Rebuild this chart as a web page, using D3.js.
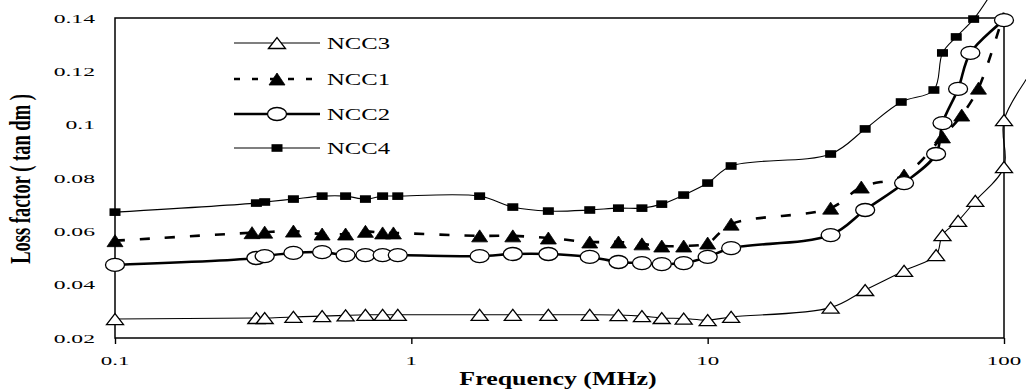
<!DOCTYPE html>
<html>
<head>
<meta charset="utf-8">
<script src="https://cdn.jsdelivr.net/npm/d3@7"></script>
<style>
  body { margin: 0; background: #fff; }
  svg { display: block; }
</style>
</head>
<body>
<svg id="chart" width="1026" height="389"></svg>
<script>
// ---- data ----
const xTickValues = [0.1, 1, 10, 100];
const xTickLabels = ["0.1", "1", "10", "100"];
const yTickValues = [0.02, 0.04, 0.06, 0.08, 0.1, 0.12, 0.14];
const yTickLabels = ["0.02", "0.04", "0.06", "0.08", "0.1", "0.12", "0.14"];
const legendOrder = ["NCC3", "NCC1", "NCC2", "NCC4"];

// frequency (MHz) and loss factor for each sample
const freqNCC3 = [0.1, 0.3, 0.32, 0.4, 0.5, 0.6, 0.7, 0.8, 0.9, 1.7, 2.2, 2.9, 4, 5, 6, 7, 8.3, 10, 12, 26, 34, 46, 59, 62, 70, 80, 100, 100, 133];
const lossNCC3 = [0.0271, 0.0275, 0.0275, 0.0279, 0.0282, 0.0285, 0.0287, 0.0287, 0.0287, 0.0287, 0.0287, 0.0287, 0.0287, 0.0286, 0.0282, 0.0275, 0.0273, 0.0267, 0.0279, 0.0314, 0.038, 0.0452, 0.0511, 0.0586, 0.0639, 0.0714, 0.0841, 0.1017, 0.1246];

const freqNCC1 = [0.1, 0.29, 0.32, 0.4, 0.5, 0.6, 0.7, 0.8, 0.87, 1.7, 2.2, 2.9, 4, 5, 6, 7, 8.3, 10, 12, 26, 33, 46, 62, 72, 82, 100];
const lossNCC1 = [0.0565, 0.0595, 0.0597, 0.0601, 0.059, 0.059, 0.060, 0.0594, 0.0594, 0.0583, 0.0583, 0.0575, 0.056, 0.056, 0.0553, 0.0545, 0.0545, 0.0556, 0.0627, 0.0687, 0.0766, 0.0811, 0.0954, 0.1036, 0.1137, 0.142];

const freqNCC2 = [0.1, 0.3, 0.32, 0.4, 0.5, 0.6, 0.7, 0.8, 0.9, 1.7, 2.2, 2.9, 4, 5, 6, 7, 8.3, 10, 12, 26, 34, 46, 59, 62, 70, 77, 100];
const lossNCC2 = [0.0474, 0.050, 0.0507, 0.0519, 0.0522, 0.0511, 0.0511, 0.0511, 0.0511, 0.0507, 0.0515, 0.0515, 0.0504, 0.0485, 0.0481, 0.0477, 0.0481, 0.0504, 0.0537, 0.0586, 0.068, 0.0781, 0.089, 0.1006, 0.1134, 0.1269, 0.1392];

const freqNCC4 = [0.1, 0.3, 0.32, 0.4, 0.5, 0.6, 0.7, 0.8, 0.9, 1.7, 2.2, 2.9, 4, 5, 6, 7, 8.3, 10, 12, 26, 34, 45, 58, 62, 69, 79, 88];
const lossNCC4 = [0.0672, 0.0706, 0.071, 0.0721, 0.0732, 0.0732, 0.0721, 0.0732, 0.0732, 0.0732, 0.0691, 0.0676, 0.068, 0.0687, 0.0687, 0.0702, 0.0736, 0.0781, 0.0845, 0.089, 0.0984, 0.1085, 0.113, 0.1269, 0.1329, 0.1396, 0.147];

// ---- styling per series ----
const seriesStyle = {
  NCC3: { freq: freqNCC3, loss: lossNCC3, width: 1.1, dash: null, marker: "triOpen" },
  NCC1: { freq: freqNCC1, loss: lossNCC1, width: 2.6, dash: "10,15", marker: "triFilled" },
  NCC2: { freq: freqNCC2, loss: lossNCC2, width: 2.6, dash: null, marker: "circle" },
  NCC4: { freq: freqNCC4, loss: lossNCC4, width: 1.1, dash: null, marker: "square" }
};

const serif = "'Liberation Serif', 'Times New Roman', serif";
const svg = d3.select("#chart");
const plot = { left: 115, top: 18, right: 1004, bottom: 338 };

const x = d3.scaleLog().domain([0.1, 100]).range([plot.left, plot.right]);
const y = d3.scaleLinear().domain([0.02, 0.14]).range([plot.bottom, plot.top]);

// plot frame
svg.append("rect")
  .attr("x", plot.left).attr("y", plot.top)
  .attr("width", plot.right - plot.left).attr("height", plot.bottom - plot.top)
  .attr("fill", "none").attr("stroke", "#000").attr("stroke-width", 1.5);

// x axis tick marks
const xAxis = svg.append("g")
  .attr("transform", `translate(0,${plot.bottom})`)
  .call(d3.axisBottom(x).tickValues(xTickValues).tickSize(6).tickFormat(""));
xAxis.select(".domain").remove();
xAxis.selectAll(".tick line").attr("stroke", "#000").attr("stroke-width", 1.4);

// x tick labels (wide serif)
svg.append("g").selectAll("text")
  .data(xTickValues)
  .join("text")
  .attr("transform", d => `translate(${x(d)},365) scale(1.7,1)`)
  .attr("text-anchor", "middle")
  .attr("font-family", serif).attr("font-size", 13.5).attr("fill", "#000")
  .text((d, i) => xTickLabels[i]);

// y tick labels
svg.append("g").selectAll("text")
  .data(yTickValues)
  .join("text")
  .attr("transform", d => `translate(95,${y(d)}) scale(1.75,1)`)
  .attr("text-anchor", "end")
  .attr("dy", "0.35em")
  .attr("font-family", serif).attr("font-size", 13.5).attr("fill", "#000")
  .text((d, i) => yTickLabels[i]);

// axis titles
svg.append("text")
  .attr("transform", "translate(558,385) scale(1.44,1)")
  .attr("text-anchor", "middle")
  .attr("font-family", serif).attr("font-weight", "bold").attr("font-size", 18)
  .text("Frequency (MHz)");

svg.append("text")
  .attr("transform", "translate(30,179) scale(1.6,1) rotate(-90)")
  .attr("text-anchor", "middle")
  .attr("font-family", serif).attr("font-weight", "bold").attr("font-size", 18.5)
  .text("Loss factor ( tan dm )");

// marker drawing
function drawMarker(g, type) {
  if (type === "triOpen") {
    g.append("path").attr("d", "M-8.5,5.5L0,-5.5L8.5,5.5Z")
      .attr("fill", "#fff").attr("stroke", "#000").attr("stroke-width", 1.3);
  } else if (type === "triFilled") {
    g.append("path").attr("d", "M-8,6L0,-6L8,6Z")
      .attr("fill", "#000").attr("stroke", "#000").attr("stroke-width", 0.8);
  } else if (type === "circle") {
    g.append("ellipse").attr("rx", 9.5).attr("ry", 6.5)
      .attr("fill", "#fff").attr("stroke", "#000").attr("stroke-width", 1.3);
  } else if (type === "square") {
    g.append("rect").attr("x", -5.5).attr("y", -3.8).attr("width", 11).attr("height", 7.6)
      .attr("fill", "#000");
  }
}

const line = d3.line()
  .x(d => x(d[0]))
  .y(d => y(d[1]))
  .curve(d3.curveCatmullRom.alpha(0.5));

const drawOrder = ["NCC3", "NCC1", "NCC2", "NCC4"];

// series lines
drawOrder.forEach(name => {
  const s = seriesStyle[name];
  const pts = s.freq.map((f, i) => [f, s.loss[i]]);
  svg.append("path")
    .datum(pts)
    .attr("d", line)
    .attr("fill", "none")
    .attr("stroke", "#000")
    .attr("stroke-width", s.width)
    .attr("stroke-dasharray", s.dash);
});

// series markers (only those inside the axis ranges)
drawOrder.forEach(name => {
  const s = seriesStyle[name];
  const pts = s.freq.map((f, i) => [f, s.loss[i]])
    .filter(p => p[0] >= 0.1 && p[0] <= 100 && p[1] <= 0.1405);
  svg.append("g").selectAll("g")
    .data(pts)
    .join("g")
    .attr("transform", d => `translate(${x(d[0])},${y(d[1])})`)
    .each(function () { drawMarker(d3.select(this), s.marker); });
});

// legend
const legendRows = [43, 79, 114, 148];
legendOrder.forEach((name, i) => {
  const s = seriesStyle[name];
  const ly = legendRows[i];
  svg.append("line")
    .attr("x1", 234).attr("x2", 320).attr("y1", ly).attr("y2", ly)
    .attr("stroke", "#000").attr("stroke-width", s.width)
    .attr("stroke-dasharray", s.dash ? "6,12" : null);
  const g = svg.append("g").attr("transform", `translate(277,${ly})`);
  drawMarker(g, s.marker);
  svg.append("text")
    .attr("transform", `translate(327,${ly}) scale(1.45,1)`)
    .attr("dy", "0.35em")
    .attr("font-family", serif).attr("font-size", 17).attr("fill", "#000")
    .text(name);
});
</script>
</body>
</html>
